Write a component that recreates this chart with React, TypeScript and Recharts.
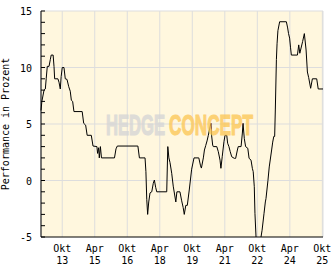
import { LineChart, Line, XAxis, YAxis, CartesianGrid, ReferenceLine } from 'recharts';

const dates = [
  2012.77, 2012.81, 2012.91, 2012.97, 2013.01, 2013.06, 2013.14, 2013.2, 2013.24, 2013.33,
  2013.37, 2013.4, 2013.55, 2013.6, 2013.66, 2013.7, 2013.75, 2013.83, 2013.89, 2013.97,
  2014.05, 2014.12, 2014.17, 2014.23, 2014.29, 2014.67, 2014.74, 2014.83, 2014.9, 2015.09,
  2015.17, 2015.35, 2015.38, 2015.43, 2015.46, 2015.51, 2015.56, 2016.16, 2016.23, 2016.29,
  2017.24, 2017.31, 2017.57, 2017.61, 2017.65, 2017.69, 2017.74, 2017.8, 2017.88, 2017.95,
  2018.0, 2018.06, 2018.11, 2018.57, 2018.62, 2018.67, 2018.72, 2018.8, 2018.87, 2018.99,
  2019.04, 2019.18, 2019.26, 2019.33, 2019.38, 2019.45, 2019.52, 2019.61, 2019.72, 2019.83,
  2020.05, 2020.13, 2020.17, 2020.26, 2020.31, 2020.37, 2020.43, 2020.49, 2020.57, 2020.61,
  2020.64, 2020.69, 2020.72, 2020.88, 2020.95, 2021.03, 2021.07, 2021.13, 2021.21, 2021.26,
  2021.34, 2021.38, 2021.44, 2021.5, 2021.57, 2021.69, 2021.75, 2021.83, 2021.87, 2022.0,
  2022.06, 2022.09, 2022.15, 2022.21, 2022.31, 2022.37, 2022.46, 2022.52, 2022.56, 2022.61,
  2022.64, 2022.69, 2022.76, 2022.85, 2022.92, 2022.97, 2023.06, 2023.12, 2023.15, 2023.24,
  2023.3, 2023.41, 2023.46, 2023.51, 2023.55, 2023.58, 2023.63, 2023.66, 2023.7, 2023.78,
  2024.09, 2024.15, 2024.19, 2024.24, 2024.28, 2024.32, 2024.6, 2024.66, 2024.71, 2024.84,
  2024.92, 2025.0, 2025.06, 2025.12, 2025.21, 2025.29, 2025.49, 2025.56, 2025.78,
];

const performance = [
  6.2, 7.0, 8.0, 8.1, 9.0, 10.1, 10.1, 10.7, 11.1, 11.1,
  10.1, 9.0, 9.0, 8.7, 8.1, 9.2, 10.0, 10.0, 9.0, 8.95,
  8.3, 7.9, 7.1, 7.0, 6.1, 6.1, 5.06, 4.9, 4.0, 4.0,
  3.05, 3.0, 2.4, 2.9, 2.0, 3.0, 2.0, 2.0, 2.8, 3.05,
  3.05, 2.0, 2.0, 0.78, -1.7, -3.0, -1.9, -1.1, -1.0, -0.25,
  0.04, -0.6, -1.0, -1.0, 3.0, 2.0, 1.6, 0.64, -0.5, -1.9,
  -1.0, -1.0, -1.8, -2.4, -3.0, -2.2, -2.2, -0.84, 1.0, 2.0,
  2.0, 1.3, 1.1, 2.0, 2.7, 3.1, 3.5, 4.0, 4.76, 5.06,
  4.0, 3.14, 3.0, 3.0, 2.55, 1.8, 1.08, 2.1, 3.43, 4.0,
  4.0, 3.3, 3.0, 2.55, 2.1, 1.96, 1.96, 2.7, 3.0, 3.0,
  4.2, 5.06, 3.7, 3.0, 2.85, 1.96, 1.8, 1.08, 0.78, -0.55,
  -2.9, -5.0, -6.5, -6.3, -5.0, -4.4, -2.9, -1.9, -1.6, 0.0,
  1.2, 2.7, 3.4, 3.9, 3.9, 6.24, 10.7, 12.1, 13.26, 14.05,
  14.05, 13.5, 13.0, 12.6, 11.8, 11.1, 11.1, 12.0, 11.26, 12.3,
  13.0, 11.55, 9.6, 9.1, 8.16, 9.0, 9.0, 8.1, 8.1,
];

const xTicks = [2013.75, 2015.25, 2016.75, 2018.25, 2019.75, 2021.25, 2022.75, 2024.25, 2025.75];
const xTickMonths = ['Okt', 'Apr', 'Okt', 'Apr', 'Okt', 'Apr', 'Okt', 'Apr', 'Okt'];
const xTickYears = ['13', '15', '16', '18', '19', '21', '22', '24', '25'];

const yTicks = [-5, -4, -3, -2, -1, 0, 1, 2, 3, 4, 5, 6, 7, 8, 9, 10, 11, 12, 13, 14, 15];
const yLabeled = [-5, 0, 5, 10, 15];

const data = dates.map((t, i) => ({ t, v: performance[i] }));

const FONT = '"DejaVu Sans Mono", monospace';
const WM_FONT = '"Liberation Sans", sans-serif';

const XTick = (props: any) => {
  const { x, y, payload } = props;
  const i = xTicks.indexOf(payload.value);
  return (
    <text x={x} textAnchor="middle" fontFamily={FONT} fontSize={10} fill="#000">
      <tspan x={x} y={y + 15}>{xTickMonths[i]}</tspan>
      <tspan x={x} y={y + 27}>{xTickYears[i]}</tspan>
    </text>
  );
};

const YTick = (props: any) => {
  const { x, y, payload } = props;
  const show = yLabeled.includes(payload.value);
  return (
    <g>
      <line x1={x} x2={x + 4} y1={y} y2={y} stroke="#000" strokeWidth={1} />
      {show && (
        <text x={x - 9} y={y} dy={4} textAnchor="end" fontFamily={FONT} fontSize={10} fill="#000">
          {payload.value}
        </text>
      )}
    </g>
  );
};

export default function App() {
  return (
    <div style={{ position: 'absolute', left: 0, top: 0, width: 332, height: 269, background: '#fff' }}>
      <LineChart width={332} height={269} data={data} margin={{ top: 11, right: 9, bottom: 0, left: 0 }}>
        <CartesianGrid horizontal={false} stroke="#dddddd" strokeDasharray="" fill="#fff7de" fillOpacity={1} />
        <ReferenceLine y={0} stroke="#dddddd" />
        <ReferenceLine y={5} stroke="#dddddd" />
        <ReferenceLine y={10} stroke="#dddddd" />
        <ReferenceLine y={15} stroke="#dddddd" />
        <XAxis
          dataKey="t"
          type="number"
          domain={[2012.77, 2025.78]}
          ticks={xTicks}
          interval={0}
          tickLine={false}
          tickSize={0}
          tickMargin={0}
          height={32}
          axisLine={{ stroke: '#000' }}
          tick={<XTick />}
        />
        <YAxis
          type="number"
          domain={[-5, 15]}
          allowDataOverflow
          ticks={yTicks}
          interval={0}
          tickLine={false}
          tickSize={0}
          tickMargin={0}
          width={41}
          axisLine={{ stroke: '#000' }}
          tick={<YTick />}
        />
        <Line
          type="linear"
          dataKey="v"
          stroke="#000"
          strokeWidth={1}
          dot={false}
          isAnimationActive={false}
        />
      </LineChart>
      <svg width={332} height={269} style={{ position: 'absolute', left: 0, top: 0, pointerEvents: 'none' }}>
        <text
          x={5}
          y={124}
          transform="rotate(-90 5 124)"
          textAnchor="middle"
          dominantBaseline="central"
          fontFamily={FONT}
          fontSize={10}
          fill="#000"
        >
          Performance in Prozent
        </text>
        <g opacity={0.8} fontFamily={WM_FONT} fontWeight="bold" fontSize={30} strokeWidth={1.2}>
          <text transform="translate(106 135) scale(0.553 1)" fill="#d6d6d6" stroke="#d6d6d6">
            HEDGE
          </text>
          <text transform="translate(169 135) scale(0.573 1)" fill="#fcc85a" stroke="#fcc85a">
            CONCEPT
          </text>
        </g>
      </svg>
    </div>
  );
}
